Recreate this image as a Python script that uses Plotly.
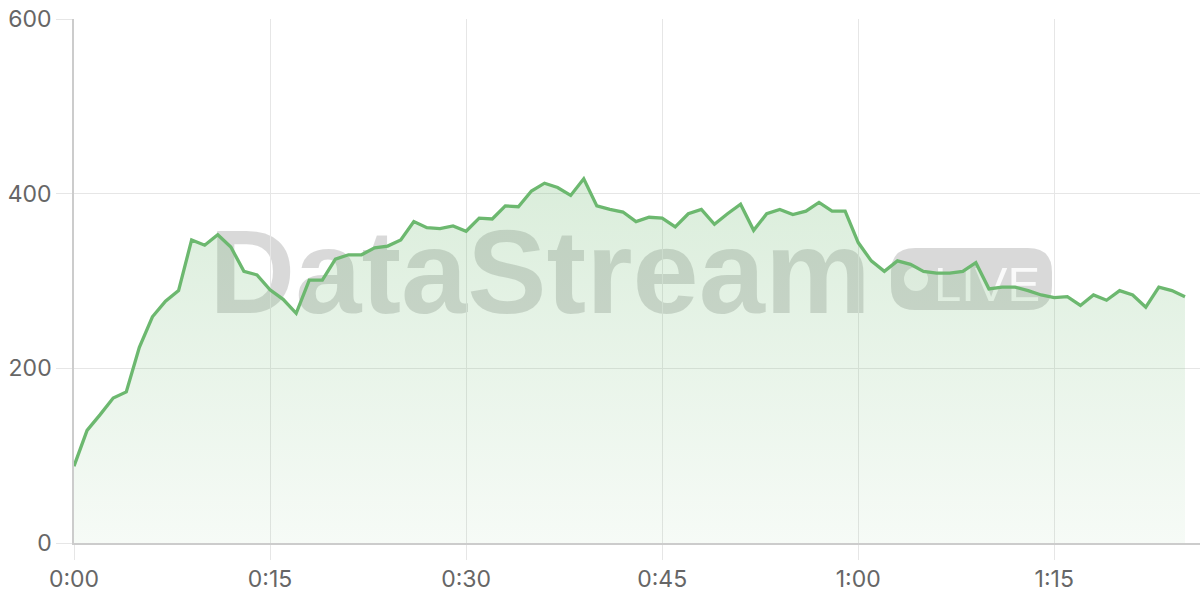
import plotly.graph_objects as go

# one sample per minute, 0:00 .. 1:25
minutes = list(range(86))
values = [
    88, 129, 147, 166, 173, 224, 259, 277, 289, 347,
    341, 353, 339, 311, 307, 290, 279, 263, 301, 301,
    325, 330, 330, 338, 340, 347, 368, 361, 360, 363,
    357, 372, 371, 386, 385, 403, 412, 407, 398, 417,
    386, 382, 379, 368, 373, 372, 362, 377, 382, 365,
    377, 388, 358, 377, 382, 376, 380, 390, 380, 380,
    344, 323, 311, 323, 319, 311, 309, 309, 311, 321,
    291, 293, 293, 289, 284, 281, 282, 272, 284, 278,
    289, 284, 270, 293, 289, 282,
]
tick_vals = [0, 15, 30, 45, 60, 75]
tick_text = ["0:00", "0:15", "0:30", "0:45", "1:00", "1:15"]
y_ticks = [0, 200, 400, 600]

fig = go.Figure()
fig.add_trace(go.Scatter(
    x=minutes, y=values,
    mode="lines",
    line=dict(color="#6cb86f", width=3.3),
    fill="tozeroy",
    fillgradient=dict(
        type="vertical",
        colorscale=[[0, "rgba(108,184,111,0.06)"], [1, "rgba(108,184,111,0.25)"]],
    ),
    hoverinfo="skip",
))


def rounded(x0, y0, x1, y1, rx, ry):
    return (f"M {x0+rx},{y0} L {x1-rx},{y0} Q {x1},{y0} {x1},{y0+ry} "
            f"L {x1},{y1-ry} Q {x1},{y1} {x1-rx},{y1} L {x0+rx},{y1} "
            f"Q {x0},{y1} {x0},{y1-ry} L {x0},{y0+ry} Q {x0},{y0} {x0+rx},{y0} Z")


# plot area in pixels: x 74..1200, y 19..543
W, H = 1126.0, 524.0
px = lambda v: (v - 74) / W
py = lambda v: (543 - v) / H

# watermark
shapes = [
    dict(type="rect", xref="paper", yref="paper", layer="below",
         x0=px(190), x1=px(890), y0=py(320), y1=py(200),
         line=dict(width=0), fillcolor="rgba(0,0,0,0)",
         label=dict(text="<b>DataStream</b>", textposition="middle center",
                    font=dict(family="Liberation Sans", size=119, color="rgba(0,0,0,0.15)"))),
    dict(type="path", xref="paper", yref="paper", layer="below",
         path=rounded(px(891), py(310), px(1052), py(248), 24 / W, 24 / H),
         line=dict(width=0), fillcolor="rgba(0,0,0,0.15)"),
    dict(type="circle", xref="paper", yref="paper", layer="below",
         x0=px(904), x1=px(928), y0=py(291), y1=py(267),
         line=dict(width=0), fillcolor="rgba(255,255,255,0.8)"),
    dict(type="rect", xref="paper", yref="paper", layer="below",
         x0=px(934), x1=px(1040), y0=py(310), y1=py(248),
         line=dict(width=0), fillcolor="rgba(0,0,0,0)",
         label=dict(text="LIVE", textposition="middle center",
                    font=dict(family="Liberation Sans", size=49, color="rgba(255,255,255,0.85)"))),
]

fig.update_layout(
    width=1200, height=600,
    margin=dict(l=74, r=0, t=19, b=57),
    paper_bgcolor="white", plot_bgcolor="white",
    showlegend=False,
    shapes=shapes,
    font=dict(family="Inter", size=23, color="#666666"),
)
fig.update_xaxes(
    range=[0, 86.15], tickvals=tick_vals, ticktext=tick_text,
    showgrid=True, gridcolor="#e6e6e6", gridwidth=1.3,
    showline=True, linecolor="#cccccc", linewidth=1.5,
    ticks="outside", ticklen=15, tickcolor="#e6e6e6", tickwidth=1.3,
    zeroline=False, automargin=False,
)
fig.update_yaxes(
    range=[0, 600], tickvals=y_ticks,
    showgrid=True, gridcolor="#e6e6e6", gridwidth=1.3,
    showline=True, linecolor="#cccccc", linewidth=1.5,
    ticks="outside", ticklen=16, tickcolor="#e6e6e6", tickwidth=1.3,
    zeroline=False, automargin=False, ticklabeloverflow="allow",
)

# drop the default body margin so the figure sits at the window corner
fig.write_html("out.html", config={"displayModeBar": False},
               post_script="document.body.style.margin='0';")
